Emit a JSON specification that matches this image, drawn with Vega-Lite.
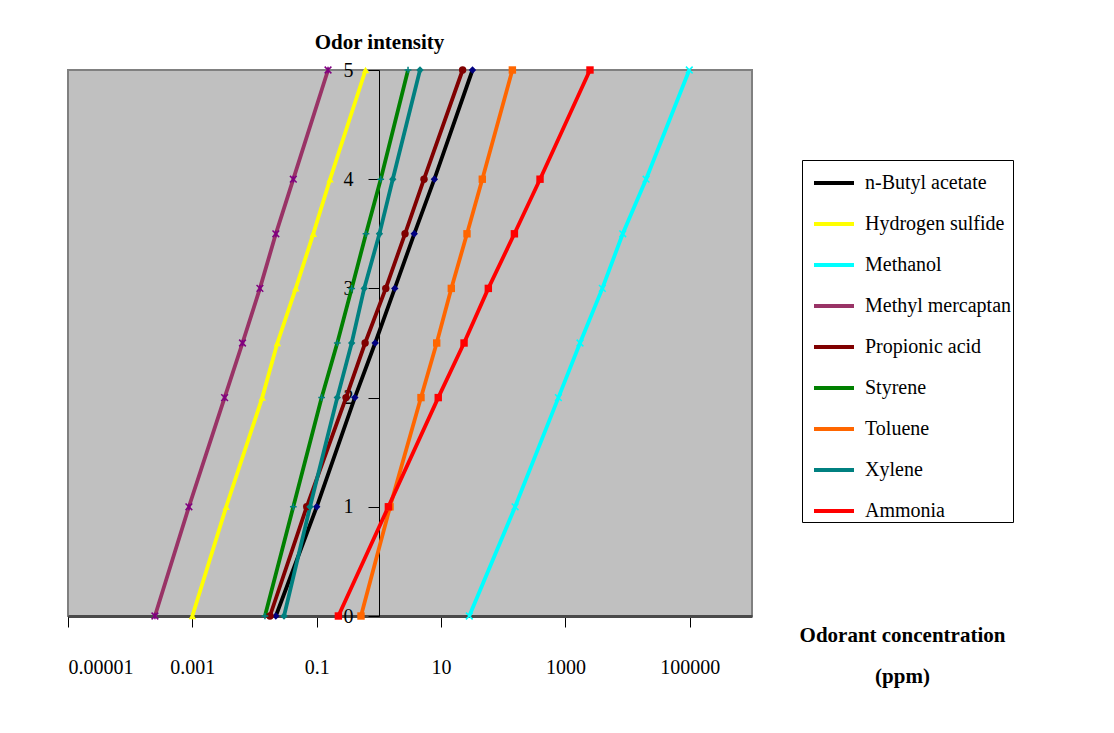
{
  "$schema": "https://vega.github.io/schema/vega-lite/v6.json",
  "width": 684,
  "height": 546,
  "autosize": {"type": "none"},
  "padding": {"left": 68, "top": 70, "right": 362, "bottom": 117},
  "background": "white",
  "config": {
    "font": "Liberation Serif",
    "view": {"fill": "#C0C0C0", "stroke": "#808080", "strokeWidth": 2}
  },
  "resolve": {"legend": {"shape": "independent", "fill": "independent", "stroke": "independent", "color": "independent"}},
  "data": {
    "values": [
      {"s": "n-Butyl acetate", "y": 0, "c": 0.022},
      {"s": "n-Butyl acetate", "y": 1, "c": 0.1},
      {"s": "n-Butyl acetate", "y": 2, "c": 0.41},
      {"s": "n-Butyl acetate", "y": 2.5, "c": 0.87},
      {"s": "n-Butyl acetate", "y": 3, "c": 1.8},
      {"s": "n-Butyl acetate", "y": 3.5, "c": 3.7},
      {"s": "n-Butyl acetate", "y": 4, "c": 7.8},
      {"s": "n-Butyl acetate", "y": 5, "c": 32},
      {"s": "Hydrogen sulfide", "y": 0, "c": 0.001},
      {"s": "Hydrogen sulfide", "y": 1, "c": 0.0035},
      {"s": "Hydrogen sulfide", "y": 2, "c": 0.0133},
      {"s": "Hydrogen sulfide", "y": 2.5, "c": 0.0233},
      {"s": "Hydrogen sulfide", "y": 3, "c": 0.046},
      {"s": "Hydrogen sulfide", "y": 3.5, "c": 0.088},
      {"s": "Hydrogen sulfide", "y": 4, "c": 0.164},
      {"s": "Hydrogen sulfide", "y": 5, "c": 0.61},
      {"s": "Methanol", "y": 0, "c": 28.4},
      {"s": "Methanol", "y": 1, "c": 155},
      {"s": "Methanol", "y": 2, "c": 770},
      {"s": "Methanol", "y": 2.5, "c": 1715},
      {"s": "Methanol", "y": 3, "c": 3920},
      {"s": "Methanol", "y": 3.5, "c": 8340},
      {"s": "Methanol", "y": 4, "c": 19800},
      {"s": "Methanol", "y": 5, "c": 98000},
      {"s": "Methyl mercaptan", "y": 0, "c": 0.00025},
      {"s": "Methyl mercaptan", "y": 1, "c": 0.00088},
      {"s": "Methyl mercaptan", "y": 2, "c": 0.0033},
      {"s": "Methyl mercaptan", "y": 2.5, "c": 0.0064},
      {"s": "Methyl mercaptan", "y": 3, "c": 0.0122},
      {"s": "Methyl mercaptan", "y": 3.5, "c": 0.022},
      {"s": "Methyl mercaptan", "y": 4, "c": 0.042},
      {"s": "Methyl mercaptan", "y": 5, "c": 0.152},
      {"s": "Propionic acid", "y": 0, "c": 0.0177},
      {"s": "Propionic acid", "y": 1, "c": 0.069},
      {"s": "Propionic acid", "y": 2, "c": 0.296},
      {"s": "Propionic acid", "y": 2.5, "c": 0.6},
      {"s": "Propionic acid", "y": 3, "c": 1.29},
      {"s": "Propionic acid", "y": 3.5, "c": 2.63},
      {"s": "Propionic acid", "y": 4, "c": 5.31},
      {"s": "Propionic acid", "y": 5, "c": 22.2},
      {"s": "Styrene", "y": 0, "c": 0.0147},
      {"s": "Styrene", "y": 1, "c": 0.042},
      {"s": "Styrene", "y": 2, "c": 0.12},
      {"s": "Styrene", "y": 2.5, "c": 0.214},
      {"s": "Styrene", "y": 3, "c": 0.365},
      {"s": "Styrene", "y": 3.5, "c": 0.62},
      {"s": "Styrene", "y": 4, "c": 1.07},
      {"s": "Styrene", "y": 5, "c": 2.94},
      {"s": "Toluene", "y": 0, "c": 0.515},
      {"s": "Toluene", "y": 1, "c": 1.51},
      {"s": "Toluene", "y": 2, "c": 4.75},
      {"s": "Toluene", "y": 2.5, "c": 8.5},
      {"s": "Toluene", "y": 3, "c": 14.6},
      {"s": "Toluene", "y": 3.5, "c": 26.1},
      {"s": "Toluene", "y": 4, "c": 46},
      {"s": "Toluene", "y": 5, "c": 140},
      {"s": "Xylene", "y": 0, "c": 0.0298},
      {"s": "Xylene", "y": 1, "c": 0.078},
      {"s": "Xylene", "y": 2, "c": 0.214},
      {"s": "Xylene", "y": 2.5, "c": 0.365},
      {"s": "Xylene", "y": 3, "c": 0.58},
      {"s": "Xylene", "y": 3.5, "c": 1.02},
      {"s": "Xylene", "y": 4, "c": 1.67},
      {"s": "Xylene", "y": 5, "c": 4.58},
      {"s": "Ammonia", "y": 0, "c": 0.223},
      {"s": "Ammonia", "y": 1, "c": 1.42},
      {"s": "Ammonia", "y": 2, "c": 9.0},
      {"s": "Ammonia", "y": 2.5, "c": 23.4},
      {"s": "Ammonia", "y": 3, "c": 57.5},
      {"s": "Ammonia", "y": 3.5, "c": 151},
      {"s": "Ammonia", "y": 4, "c": 390},
      {"s": "Ammonia", "y": 5, "c": 2480}
    ]
  },
  "encoding": {
    "x": {
      "field": "c",
      "type": "quantitative",
      "scale": {"type": "log", "domain": [0.00001, 1000000], "nice": false},
      "axis": {
        "values": [0.00001, 0.001, 0.1, 10, 1000, 100000],
        "labelExpr": "datum.value < 1 ? format(datum.value, '.5~f') : format(datum.value, 'd')",
        "labelOverlap": false,
        "labelFont": "Liberation Serif",
        "labelFontSize": 20,
        "labelColor": "black",
        "labelBaseline": "middle",
        "labelPadding": 40,
        "tickSize": 11,
        "tickColor": "black",
        "tickWidth": 1,
        "domainColor": "#4a4a4a",
        "domainWidth": 3,
        "grid": false,
        "title": ["Odorant concentration", "(ppm)"],
        "titleFont": "Liberation Serif",
        "titleFontSize": 21,
        "titleFontWeight": "bold",
        "titleColor": "black",
        "titleAlign": "center",
        "titleBaseline": "alphabetic",
        "titleLineHeight": 41,
        "titleX": 834,
        "titleY": 25
      }
    },
    "y": {
      "field": "y",
      "type": "quantitative",
      "scale": {"domain": [0, 5], "nice": false},
      "axis": {
        "values": [0, 1, 2, 3, 4, 5],
        "offset": -311,
        "labelFont": "Liberation Serif",
        "labelFontSize": 20,
        "labelColor": "black",
        "labelPadding": 15,
        "tickSize": 11,
        "tickColor": "black",
        "domainColor": "black",
        "domainWidth": 1,
        "grid": false,
        "title": "Odor intensity",
        "titleFont": "Liberation Serif",
        "titleFontSize": 21,
        "titleFontWeight": "bold",
        "titleColor": "black",
        "titleAngle": 0,
        "titleAlign": "center",
        "titleBaseline": "middle",
        "titleX": 0,
        "titleY": -28
      }
    }
  },
  "layer": [
    {
      "mark": {"type": "line", "strokeWidth": 3.8},
      "encoding": {
        "order": {"field": "y", "type": "quantitative"},
        "color": {
          "field": "s",
          "type": "nominal",
          "scale": {
            "domain": ["n-Butyl acetate", "Hydrogen sulfide", "Methanol", "Methyl mercaptan", "Propionic acid", "Styrene", "Toluene", "Xylene", "Ammonia"],
            "range": ["#000000", "#FFFF00", "#00FFFF", "#993366", "#800000", "#008000", "#FF6600", "#008080", "#FF0000"]
          },
          "legend": {
            "orient": "none",
            "legendX": 734,
            "legendY": 90,
            "title": null,
            "symbolType": "stroke",
            "symbolSize": 1600,
            "symbolStrokeWidth": 4,
            "symbolOffset": 9,
            "labelOffset": 9,
            "labelFont": "Liberation Serif",
            "labelFontSize": 20,
            "labelColor": "black",
            "labelLimit": 400,
            "rowPadding": 9,
            "padding": 1,
            "strokeColor": "black",
            "fillColor": "white"
          }
        }
      }
    },
    {
      "transform": [{"filter": "indexof(['Methanol','Methyl mercaptan','Styrene'], datum.s) < 0"}],
      "mark": {"type": "point", "filled": true, "opacity": 1, "size": 55},
      "encoding": {
        "fill": {
          "field": "s",
          "type": "nominal",
          "scale": {
            "domain": ["n-Butyl acetate", "Hydrogen sulfide", "Methanol", "Methyl mercaptan", "Propionic acid", "Styrene", "Toluene", "Xylene", "Ammonia"],
            "range": ["#000080", "#FFFF00", "#00FFFF", "#800080", "#800000", "#008080", "#FF6600", "#008080", "#FF0000"]
          },
          "legend": null
        },
        "shape": {
          "field": "s",
          "type": "nominal",
          "scale": {
            "domain": ["n-Butyl acetate", "Hydrogen sulfide", "Methanol", "Methyl mercaptan", "Propionic acid", "Styrene", "Toluene", "Xylene", "Ammonia"],
            "range": ["diamond", "triangle-up", "M-1,-1L1,1M-1,1L1,-1", "M-1,-1L1,1M-1,1L1,-1M0,-1L0,1", "circle", "M-1,0L1,0M0,-1L0,1", "square", "diamond", "square"]
          },
          "legend": null
        }
      }
    },
    {
      "transform": [{"filter": "indexof(['Methanol','Methyl mercaptan','Styrene'], datum.s) >= 0"}],
      "mark": {"type": "point", "filled": false, "opacity": 1, "size": 45, "strokeWidth": 1.5},
      "encoding": {
        "stroke": {
          "field": "s",
          "type": "nominal",
          "scale": {
            "domain": ["n-Butyl acetate", "Hydrogen sulfide", "Methanol", "Methyl mercaptan", "Propionic acid", "Styrene", "Toluene", "Xylene", "Ammonia"],
            "range": ["#000080", "#FFFF00", "#00FFFF", "#800080", "#800000", "#008080", "#FF6600", "#008080", "#FF0000"]
          },
          "legend": null
        },
        "shape": {
          "field": "s",
          "type": "nominal",
          "scale": {
            "domain": ["n-Butyl acetate", "Hydrogen sulfide", "Methanol", "Methyl mercaptan", "Propionic acid", "Styrene", "Toluene", "Xylene", "Ammonia"],
            "range": ["diamond", "triangle-up", "M-1,-1L1,1M-1,1L1,-1", "M-1,-1L1,1M-1,1L1,-1M0,-1L0,1", "circle", "M-1,0L1,0M0,-1L0,1", "square", "diamond", "square"]
          },
          "legend": null
        }
      }
    }
  ]
}
